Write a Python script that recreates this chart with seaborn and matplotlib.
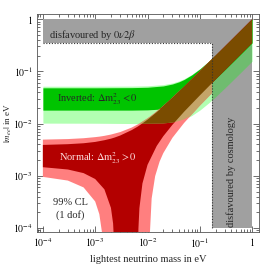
import numpy as np
import matplotlib
matplotlib.use("Agg")
import matplotlib.pyplot as plt
import seaborn as sns
from matplotlib.transforms import TransformedPath
from matplotlib.ticker import FixedLocator, FixedFormatter, LogLocator, NullFormatter

# ---------------- data ----------------
# Normal hierarchy, dark band (best fit)
x_nd = [1e-4, 3e-4, 6e-4, 1e-3, 1.5e-3, 2e-3, 2.2e-3, 2.35e-3, 2.4e-3, 3e-3, 5e-3, 6.55e-3,
        6.7e-3, 7e-3, 8e-3, 1e-2, 1.5e-2, 2e-2, 3e-2, 5e-2, 0.1, 0.2, 0.5, 1.0]
nd_lo = [1.46e-3, 1.32e-3, 1.125e-3, 0.867e-3, 0.55e-3, 0.243e-3, 0.122e-3, 0.033e-3, 1e-6, 1e-6,
         1e-6, 1e-6, 0.0955e-3, 0.24e-3, 0.714e-3, 1.62e-3, 3.73e-3, 5.72e-3, 9.5e-3, 0.01683,
         0.0346, 0.0698, 0.1749, 0.35]
nd_hi = [3.9e-3, 4.03e-3, 4.2e-3, 4.45e-3, 4.8e-3, 5.14e-3, 5.29e-3, 5.4e-3, 5.44e-3, 5.9e-3,
         7.51e-3, 8.8e-3, 8.95e-3, 9.21e-3, 0.01009, 0.01188, 0.01652, 0.02129, 0.031, 0.0507,
         0.1004, 0.2002, 0.5001, 1.0]

# Normal hierarchy, light band (with errors)
x_nl = [1e-4, 3e-4, 6e-4, 1e-3, 1.2e-3, 1.35e-3, 1.45e-3, 1.5e-3, 2e-3, 3e-3, 5e-3, 7e-3, 1e-2,
        1.05e-2, 1.1e-2, 1.2e-2, 1.4e-2, 1.7e-2, 2e-2, 3e-2, 5e-2, 0.1, 0.17]
nl_lo = [0.953e-3, 0.81e-3, 0.599e-3, 0.322e-3, 0.184e-3, 0.082e-3, 0.014e-3, 1e-6, 1e-6, 1e-6,
         1e-6, 1e-6, 1e-6, 1e-6, 0.065e-3, 0.368e-3, 0.986e-3, 1.865e-3, 2.706e-3, 5.35e-3,
         10.27e-3, 21.96e-3, 0.0379]
nl_hi = [4.93e-3, 5.05e-3, 5.24e-3, 5.5e-3, 5.62e-3, 5.72e-3, 5.79e-3, 5.82e-3, 6.16e-3, 6.87e-3,
         8.39e-3, 0.01002, 0.0126, 0.01304, 0.01347, 0.01439, 0.01621, 0.019, 0.0218, 0.03143,
         0.051, 0.1005, 0.1704]

# Inverted hierarchy, dark and light bands
x_inv = [1e-4, 1e-3, 5e-3, 1e-2, 2e-2, 3e-2, 4e-2, 5e-2, 7e-2, 0.1, 0.15, 0.2, 0.3, 0.5, 1.0]
id_lo = [0.0181, 0.0181, 0.0181, 0.0183, 0.0191, 0.0206, 0.0225, 0.0248, 0.0302, 0.0392, 0.0554,
         0.0721, 0.1065, 0.1758, 0.3507]
id_hi = [0.0484, 0.0484, 0.0488, 0.0496, 0.0526, 0.0573, 0.0631, 0.0699, 0.0854, 0.1113, 0.1578,
         0.2059, 0.304, 0.5024, 1.0012]
il_lo = [0.0102, 0.01015, 0.01002, 0.00993, 0.01005, 0.01048, 0.01118, 0.01208, 0.01426, 0.01811,
         0.0252, 0.03266, 0.04794, 0.079, 0.157]
il_hi = [0.05196, 0.05197, 0.0522, 0.05292, 0.05568, 0.06, 0.06552, 0.07211, 0.08723, 0.11269,
         0.15869, 0.20664, 0.30447, 0.50269, 1.00135]

# Excluded regions
bb_x = [1e-4, 1.0]          # 0nu2beta bound
bb_lo = [0.35, 0.35]
bb_hi = [1.0, 1.0]
cosmo_x = [0.17, 1.0]       # cosmology bound
cosmo_lo = [1e-4, 1e-4]
cosmo_hi = [1.0, 1.0]

tick_vals = [1e-4, 1e-3, 1e-2, 1e-1, 1.0]
tick_labels = [r"$10^{-4}$", r"$10^{-3}$", r"$10^{-2}$", r"$10^{-1}$", r"$1$"]

# ---------------- style ----------------
sns.set_style("ticks")
plt.rcParams["font.family"] = ["Liberation Serif", "DejaVu Serif"]
plt.rcParams["mathtext.fontset"] = "stix"

fig = plt.figure(figsize=(2.62, 2.66), dpi=100)
ax = fig.add_axes([0.141, 0.128, 0.848, 0.819])
ax.set_xscale("log")
ax.set_yscale("log")

GRAY = "#a0a0a0"
LGREEN = (0.0, 1.0, 0.0, 0.3)
DGREEN = "#00c400"
LRED = "#ff7f7f"
DRED = "#b30000"
TAN = "#c4a468"
BROWN = "#7a4c00"

ax.fill_between(bb_x, bb_lo, bb_hi, color=GRAY, lw=0, zorder=1)
ax.fill_between(cosmo_x, cosmo_lo, cosmo_hi, color=GRAY, lw=0, zorder=1)
ax.plot([bb_x[0], cosmo_x[0], cosmo_x[0]], [bb_lo[0], bb_lo[0], cosmo_lo[0]],
        ls=(0, (1, 1.5)), color="#333333", lw=0.8, zorder=8)

il = ax.fill_between(x_inv, il_lo, il_hi, color=LGREEN, lw=0, zorder=2)
idk = ax.fill_between(x_inv, id_lo, id_hi, color=DGREEN, lw=0, zorder=3)
ax.fill_between(x_nl, nl_lo, nl_hi, color=LRED, lw=0, zorder=4)
ax.fill_between(x_nd, nd_lo, nd_hi, color=DRED, lw=0, zorder=5)

il_clip = TransformedPath(il.get_paths()[0], ax.transData)
id_clip = TransformedPath(idk.get_paths()[0], ax.transData)

tan = ax.fill_between(x_nl, nl_lo, nl_hi, color=TAN, lw=0, zorder=6)
tan.set_clip_path(il_clip)
b1 = ax.fill_between(x_nd, nd_lo, nd_hi, color=BROWN, lw=0, zorder=7)
b1.set_clip_path(il_clip)
b2 = ax.fill_between(x_nl, nl_lo, nl_hi, color=BROWN, lw=0, zorder=7)
b2.set_clip_path(id_clip)

ax.set_xlim(7.7e-5, 1.36)
ax.set_ylim(8.4e-5, 1.25)

for axis in (ax.xaxis, ax.yaxis):
    axis.set_major_locator(FixedLocator(tick_vals))
    axis.set_major_formatter(FixedFormatter(tick_labels))
    axis.set_minor_locator(LogLocator(base=10, subs=np.arange(2, 10) * 1.0, numticks=20))
    axis.set_minor_formatter(NullFormatter())
ax.tick_params(which="both", direction="in", top=True, right=True, labelsize=7, width=0.5,
               colors="#333333", labelcolor="black", pad=3)
ax.tick_params(which="major", length=4)
ax.tick_params(which="minor", length=2)
for s in ax.spines.values():
    s.set_linewidth(0.6)
    s.set_color("#555555")
    s.set_zorder(10)

ax.set_xlabel("lightest neutrino mass in eV", fontsize=7.5)
ax.xaxis.set_label_coords(0.5, -0.105)
ax.set_ylabel(r"$|m_{ee}|$ in eV", fontsize=6.5)
ax.yaxis.set_label_coords(-0.104, 0.5)

ax.text(9e-4, 0.49, r"disfavoured by $0\nu2\beta$", fontsize=7.5, ha="center", va="center", zorder=9)
ax.text(1.1e-3, 0.029, r"Inverted: $\Delta\mathrm{m}^2_{23} < 0$", fontsize=7.5, ha="center",
        va="center", zorder=9)
ax.text(1.1e-3, 0.0022, r"Normal: $\Delta\mathrm{m}^2_{23} > 0$", fontsize=7.5, ha="center",
        va="center", color="#ffe0e0", zorder=9)
ax.text(3.3e-4, 3.1e-4, "99% CL", fontsize=7.5, ha="center", va="center", zorder=9)
ax.text(3.3e-4, 1.75e-4, "(1 dof)", fontsize=7.5, ha="center", va="center", zorder=9)
ax.text(0.4, 1.2e-3, "disfavoured by cosmology", fontsize=7.5, rotation=90, ha="center",
        va="center", zorder=9)

fig.savefig("out.png", dpi=100)
